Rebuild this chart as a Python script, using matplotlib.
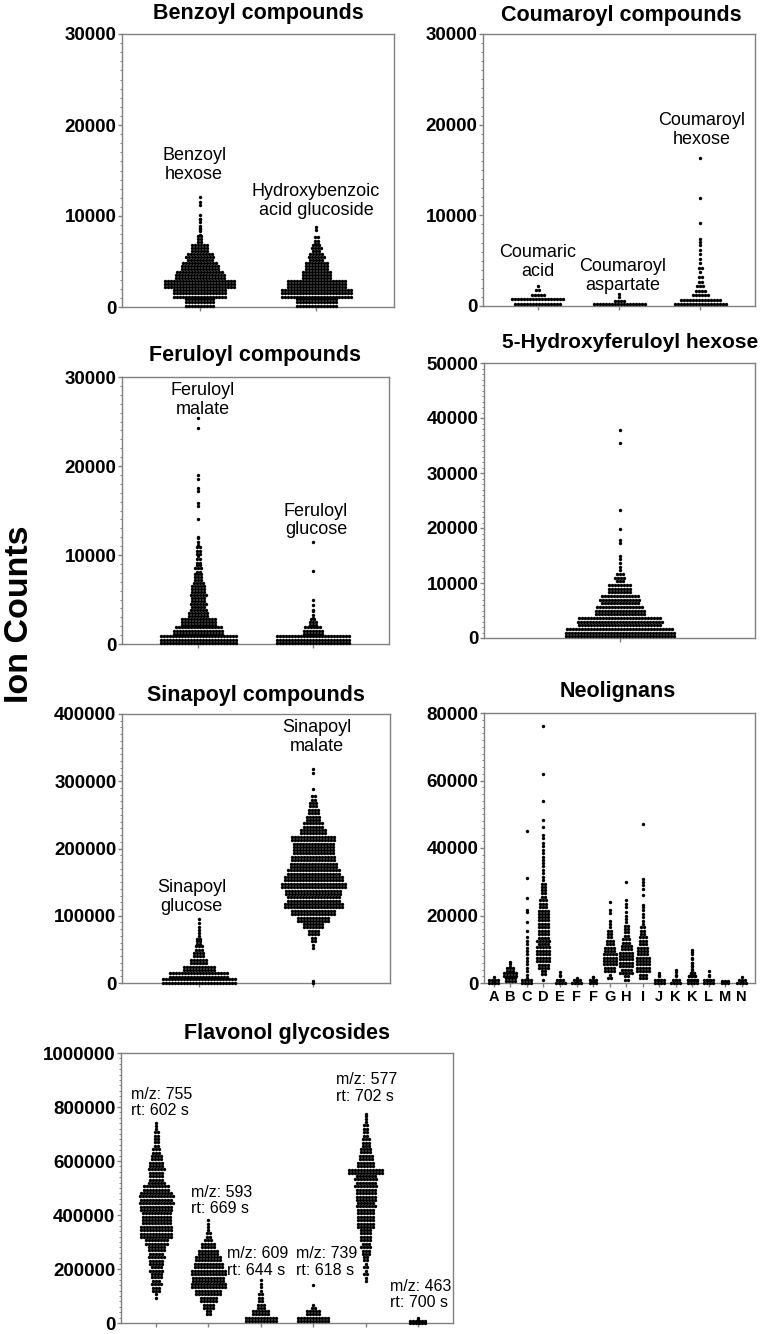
import matplotlib
matplotlib.use("Agg")
import matplotlib.pyplot as plt
from matplotlib.ticker import MultipleLocator, AutoMinorLocator, StrMethodFormatter

plt.rcParams['font.family'] = ['Liberation Sans', 'DejaVu Sans']
plt.rcParams['font.weight'] = 'bold'

benzoyl_hexose = [(500, 30), (1500, 54), (2500, 72), (3500, 50), (4500, 38), (5500, 28), (6500, 18),
                  (7500, 6), (8300, 3), (8700, 2), (9500, 2), (9900, 2), (11200, 1), (11500, 1), (12100, 1)]
hydroxybenzoic_glc = [(500, 42), (1500, 72), (2500, 60), (3500, 30), (4500, 24), (5500, 16), (6500, 10),
                      (7300, 6), (8500, 1), (8800, 1)]

coumaric_acid = [(250, 16), (750, 18), (1250, 5), (1750, 2), (2200, 1)]
coumaroyl_aspartate = [(200, 18), (600, 4), (1000, 1), (1300, 1)]
coumaroyl_hexose = [(250, 18), (700, 14), (1200, 6), (1700, 4), (2200, 3), (2700, 2), (3200, 2), (3700, 1),
                    (4200, 2), (4700, 1), (5200, 1), (5700, 1), (6200, 1), (6700, 1), (7100, 1), (7400, 1),
                    (9150, 1), (11900, 1), (16300, 1)]

feruloyl_malate = [(500, 78), (1500, 50), (2500, 36), (3500, 20), (4500, 16), (5500, 16), (6500, 14),
                   (7500, 9), (8500, 7), (9500, 5), (10500, 6), (11500, 3), (12000, 1), (14100, 1),
                   (15700, 2), (17200, 1), (17500, 1), (18500, 1), (19000, 1), (24300, 1), (25400, 1)]
feruloyl_glucose = [(500, 75), (1500, 20), (2500, 8), (3300, 3), (3800, 1), (4400, 1), (5000, 1),
                    (8200, 1), (11500, 1)]

hydroxyferuloyl_hexose = [(1000, 110), (3000, 85), (5000, 50), (7000, 40), (9000, 24), (11000, 10),
                          (12600, 2), (14300, 3), (17500, 2), (19800, 1), (23300, 1), (35400, 1), (37800, 1)]

sinapoyl_glucose = [(3000, 50), (12000, 40), (22000, 22), (32000, 12), (42000, 8), (52000, 6), (60000, 4),
                    (68000, 3), (76000, 2), (84000, 1), (89000, 1), (95000, 1)]
sinapoyl_malate = [(500, 2), (52000, 1), (57000, 1), (65000, 4), (75000, 8), (85000, 14), (95000, 22),
                   (105000, 30), (115000, 40), (125000, 36), (135000, 38), (145000, 44), (155000, 40),
                   (165000, 36), (175000, 32), (185000, 30), (195000, 28), (205000, 28), (215000, 30),
                   (225000, 18), (235000, 14), (245000, 10), (255000, 8), (265000, 6), (275000, 4),
                   (288000, 1), (312000, 1), (318000, 1)]

neolignan_labels = ['A', 'B', 'C', 'D', 'E', 'F', 'F', 'G', 'H', 'I', 'J', 'K', 'K', 'L', 'M', 'N']
neo_a = [(400, 8), (1200, 2)]
neo_b = [(1000, 8), (2500, 10), (4000, 6), (5300, 2), (6200, 1)]
neo_c = [(300, 8), (2000, 2), (4000, 2), (6000, 2), (8000, 2), (10000, 2), (12000, 2), (13500, 1),
         (15500, 1), (18000, 1), (21000, 1), (21700, 1), (25300, 1), (31000, 1), (45000, 1)]
neo_d = [(1000, 1), (3000, 4), (5000, 8), (7000, 10), (9000, 10), (11000, 9), (13000, 9), (15000, 8),
         (17000, 8), (19000, 8), (21000, 8), (23000, 6), (25000, 5), (27000, 4), (29000, 4), (31000, 2),
         (33000, 2), (35000, 2), (37000, 2), (39000, 2), (41000, 2), (43500, 2), (46300, 1), (48300, 1),
         (54000, 1), (62000, 1), (76200, 1)]
neo_e = [(500, 7), (1500, 2), (2300, 1), (3300, 1)]
neo_f = [(300, 7), (900, 2)]
neo_f2 = [(400, 6), (1200, 3), (1800, 1)]
neo_g = [(2000, 3), (4000, 8), (6000, 10), (8000, 10), (10000, 8), (12000, 6), (14000, 4), (16000, 3),
         (18000, 2), (20600, 1), (21600, 1), (24000, 1)]
neo_h = [(1500, 4), (3500, 9), (5500, 10), (7500, 10), (9500, 9), (11500, 7), (13500, 5), (15500, 4),
         (17500, 3), (19500, 2), (21000, 1), (22500, 1), (23500, 1), (24700, 1), (30000, 1)]
neo_i = [(2000, 6), (4000, 10), (6000, 10), (8000, 9), (10000, 8), (12000, 6), (14000, 5), (16000, 4),
         (18000, 2), (20000, 2), (22000, 2), (23000, 1), (26000, 1), (28000, 1), (29000, 1), (30000, 1),
         (30700, 1), (47000, 1)]
neo_j = [(500, 8), (1500, 3), (2500, 1), (3000, 1)]
neo_k = [(400, 7), (1500, 2), (2500, 1), (3300, 1), (4000, 1)]
neo_k2 = [(500, 8), (1500, 7), (2500, 5), (3500, 3), (4500, 2), (5500, 2), (6500, 2), (7500, 1),
          (8500, 1), (9200, 1), (9800, 1)]
neo_l = [(500, 8), (1500, 3), (2500, 1), (3700, 1)]
neo_m = [(250, 6)]
neo_n = [(400, 7), (1200, 2)]

flav_labels = ['m/z: 755\nrt: 602 s', 'm/z: 593\nrt: 669 s', 'm/z: 609\nrt: 644 s',
               'm/z: 739\nrt: 618 s', 'm/z: 577\nrt: 702 s', 'm/z: 463\nrt: 700 s']
flav_755 = [(100000, 2), (125000, 6), (150000, 7), (175000, 8), (200000, 9), (225000, 10), (250000, 11),
            (275000, 12), (300000, 16), (325000, 22), (350000, 22), (375000, 20), (400000, 20),
            (425000, 22), (450000, 23), (475000, 23), (500000, 18), (525000, 11), (550000, 10),
            (575000, 11), (600000, 9), (625000, 7), (650000, 5), (675000, 4), (700000, 4), (725000, 2),
            (740000, 1)]
flav_593 = [(37500, 4), (62500, 8), (87500, 12), (112500, 18), (137500, 24), (162500, 22), (187500, 24),
            (212500, 20), (237500, 18), (262500, 14), (287500, 10), (312500, 5), (337500, 3),
            (362500, 2), (380000, 1)]
flav_609 = [(12500, 22), (37500, 12), (62500, 6), (87500, 4), (112500, 3), (137500, 2), (158000, 1)]
flav_739 = [(12500, 22), (37500, 10), (62500, 3), (139000, 1)]
flav_577 = [(162500, 2), (187500, 3), (212500, 3), (237500, 4), (262500, 6), (287500, 7), (312500, 8),
            (337500, 8), (362500, 12), (387500, 12), (412500, 12), (437500, 13), (462500, 14),
            (487500, 14), (512500, 15), (537500, 15), (562500, 24), (587500, 12), (612500, 10),
            (637500, 8), (662500, 6), (687500, 5), (712500, 4), (737500, 3), (760000, 2), (774000, 1)]
flav_463 = [(2000, 12), (12000, 1), (18000, 1)]

W, H = 760, 1334
ROW_PX, COL_PX = 3.2, 3.0
fig = plt.figure(figsize=(W / 100, H / 100), dpi=100)


def panel(box, ymax, ystep, n, xlim=None, xlabels=None):
    l, t, r, b = box
    ax = fig.add_axes([l / W, 1 - b / H, (r - l) / W, (b - t) / H])
    ax.set_ylim(0, ymax)
    ax.set_xlim(*(xlim or (-0.67, n - 1 + 0.67)))
    ax.yaxis.set_major_locator(MultipleLocator(ystep))
    ax.yaxis.set_minor_locator(AutoMinorLocator(10))
    ax.yaxis.set_major_formatter(StrMethodFormatter('{x:.0f}'))
    ax.set_xticks(range(n))
    ax.set_xticklabels(xlabels if xlabels else [''] * n, fontsize=10.5)
    for s in ax.spines.values():
        s.set_color('#808080')
        s.set_linewidth(1)
    ax.tick_params(axis='y', which='major', length=3, width=1, color='#808080', labelsize=13.5, pad=1)
    ax.tick_params(axis='y', which='minor', length=1.5, width=0.7, color='#808080')
    ax.tick_params(axis='x', length=3, width=1, color='#808080', pad=2)
    ax.box = box
    return ax


def swarm(ax, xc, pairs, bin_size):
    l, t, r, b = ax.box
    y0, y1 = ax.get_ylim()
    x0, x1 = ax.get_xlim()
    ypx = (b - t) / (y1 - y0)
    xpx = (r - l) / (x1 - x0)
    max_sub = max(1, round(bin_size * ypx / ROW_PX))
    xs, ys = [], []
    for level, n in pairs:
        nsub = min(n, max_sub)
        rows = [n // nsub] * nsub
        order = sorted(range(nsub), key=lambda k: abs(k - (nsub - 1) / 2))
        for k in order[:n % nsub]:
            rows[k] += 1
        for k, m in enumerate(rows):
            y = max(0, level + (k - (nsub - 1) / 2) * ROW_PX / ypx)
            for j in range(m):
                xs.append(xc + (j - (m - 1) / 2) * COL_PX / xpx)
                ys.append(y)
    ax.scatter(xs, ys, s=6, c='black', linewidths=0, clip_on=False, zorder=3)


def note(ax, x, y, txt, align='center', size=13):
    ax.text(x, y, txt, ha='center', va='center', fontsize=size, fontweight='normal',
            multialignment=align, linespacing=1.1)


def title(x, y, txt, size=15.5):
    fig.text(x / W, 1 - y / H, txt, ha='center', va='center', fontsize=size, fontweight='bold')


# Benzoyl
ax1 = panel((122, 34, 394, 307), 30000, 10000, 2)
swarm(ax1, 0, benzoyl_hexose, 1000)
swarm(ax1, 1, hydroxybenzoic_glc, 1000)
note(ax1, -0.05, 15600, 'Benzoyl\nhexose')
note(ax1, 1.0, 11650, 'Hydroxybenzoic\nacid glucoside')
title(258, 13, 'Benzoyl compounds')

# Coumaroyl
ax2 = panel((483, 34, 755, 306), 30000, 10000, 3)
swarm(ax2, 0, coumaric_acid, 500)
swarm(ax2, 1, coumaroyl_aspartate, 500)
swarm(ax2, 2, coumaroyl_hexose, 500)
note(ax2, 0.0, 4850, 'Coumaric\nacid')
note(ax2, 1.05, 3300, 'Coumaroyl\naspartate')
note(ax2, 2.01, 19400, 'Coumaroyl\nhexose')
title(621, 15, 'Coumaroyl compounds')

# Feruloyl
ax3 = panel((122, 377, 389, 644), 30000, 10000, 2)
swarm(ax3, 0, feruloyl_malate, 1000)
swarm(ax3, 1, feruloyl_glucose, 1000)
note(ax3, 0.04, 27400, 'Feruloyl\nmalate')
note(ax3, 1.03, 13900, 'Feruloyl\nglucose')
title(255, 355, 'Feruloyl compounds')

# 5-Hydroxyferuloyl hexose
ax4 = panel((484, 363, 755, 638), 50000, 10000, 1, xlim=(-1, 1))
swarm(ax4, 0, hydroxyferuloyl_hexose, 2000)
title(630, 343, '5-Hydroxyferuloyl hexose', size=15)

# Sinapoyl
ax5 = panel((122, 714, 390, 983), 400000, 100000, 2)
swarm(ax5, 0, sinapoyl_glucose, 10000)
swarm(ax5, 1, sinapoyl_malate, 10000)
note(ax5, -0.06, 128000, 'Sinapoyl\nglucose')
note(ax5, 1.03, 366000, 'Sinapoyl\nmalate')
title(256, 695, 'Sinapoyl compounds')

# Neolignans
ax6 = panel((484, 713, 755, 983), 80000, 20000, 16, xlim=(-0.6, 15.8), xlabels=neolignan_labels)
for i, grp in enumerate([neo_a, neo_b, neo_c, neo_d, neo_e, neo_f, neo_f2, neo_g, neo_h, neo_i,
                         neo_j, neo_k, neo_k2, neo_l, neo_m, neo_n]):
    swarm(ax6, i, grp, 2000)
title(618, 692, 'Neolignans')

# Flavonol glycosides
ax7 = panel((121, 1053, 453, 1323), 1000000, 200000, 6)
for i, grp in enumerate([flav_755, flav_593, flav_609, flav_739, flav_577, flav_463]):
    swarm(ax7, i, grp, 25000)
for (x, y), txt in zip([(0.11, 818000), (1.26, 455000), (1.93, 226000), (3.26, 226000),
                        (4.03, 870000), (5.06, 107000)], flav_labels):
    note(ax7, x, y, txt, align='left', size=11.5)
title(287, 1033, 'Flavonol glycosides')

fig.text(20 / W, 1 - 614 / H, 'Ion Counts', rotation=90, ha='center', va='center',
         fontsize=24.5, fontweight='bold')

fig.savefig('out.png', dpi=100)
